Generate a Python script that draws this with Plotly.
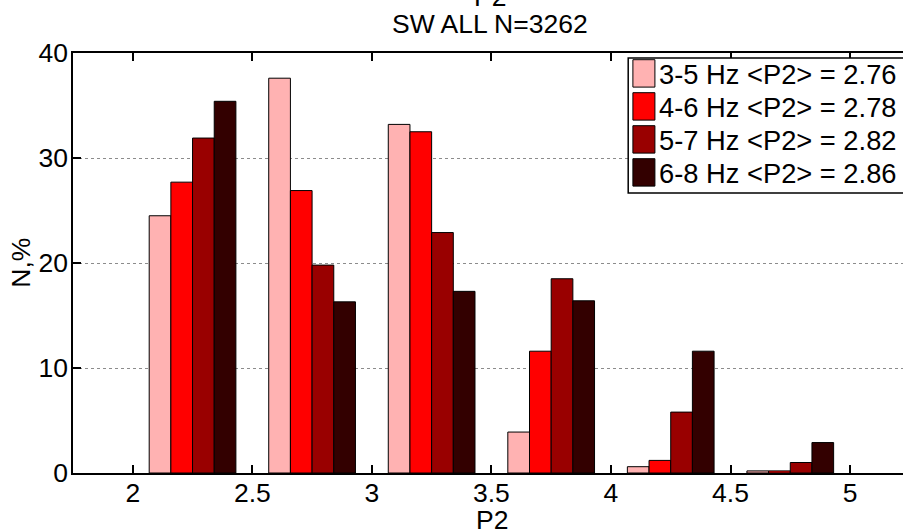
import plotly.graph_objects as go

# P2 histogram bins (bin centres) and percentage per frequency band
bin_centers = [2.25, 2.75, 3.25, 3.75, 4.25, 4.75]
band_labels = ["3-5 Hz", "4-6 Hz", "5-7 Hz", "6-8 Hz"]
band_means = [2.76, 2.78, 2.82, 2.86]
band_colors = ["#FFB2B2", "#FF0000", "#990000", "#330000"]

pct_3_5 = [24.5, 37.6, 33.2, 3.9, 0.6, 0.2]
pct_4_6 = [27.7, 26.9, 32.5, 11.6, 1.2, 0.2]
pct_5_7 = [31.9, 19.8, 22.9, 18.5, 5.8, 1.0]
pct_6_8 = [35.4, 16.3, 17.3, 16.4, 11.6, 2.9]
band_values = [pct_3_5, pct_4_6, pct_5_7, pct_6_8]

x_ticks = [2, 2.5, 3, 3.5, 4, 4.5, 5]
y_ticks = [0, 10, 20, 30, 40]

W, H = 903, 530
ML, MR, MT, MB = 73.3, 0, 53.3, 56.7
PW, PH = W - ML - MR, H - MT - MB
FONT = "Liberation Sans, Arial, Helvetica, sans-serif"
FS = 26.5
FS_LEG = 27.3


def px(xpix):
    return (xpix - ML) / PW


def py(ypix):
    return (H - MB - ypix) / PH


fig = go.Figure()
for name, vals, col in zip(band_labels, band_values, band_colors):
    fig.add_trace(go.Bar(
        x=bin_centers, y=vals, name=name,
        marker=dict(color=col, line=dict(color="black", width=1)),
        showlegend=False,
    ))

shapes = []
annotations = []

# legend box (extends past the right edge of the canvas)
shapes.append(dict(type="rect", xref="paper", yref="paper",
                   x0=px(628.3), x1=px(915), y0=py(193.3), y1=py(58.3),
                   line=dict(color="black", width=1.5), fillcolor="white",
                   layer="above"))
for i, (name, mean, col) in enumerate(zip(band_labels, band_means, band_colors)):
    cy = 73.7 + i * 33.0
    shapes.append(dict(type="rect", xref="paper", yref="paper",
                       x0=px(633), x1=px(655), y0=py(cy + 13.7), y1=py(cy - 13.7),
                       line=dict(color="black", width=1), fillcolor=col,
                       layer="above"))
    annotations.append(dict(xref="paper", yref="paper", x=px(657.5), y=py(cy + 1),
                            xanchor="left", yanchor="middle", showarrow=False,
                            text=f"{name} &lt;P2&gt; = {mean:.2f}",
                            font=dict(family=FONT, size=FS_LEG, color="black")))

# two-line title
annotations.append(dict(xref="paper", yref="paper", x=px(490), y=py(-3.0),
                        xanchor="center", yanchor="middle", showarrow=False,
                        text="P2", font=dict(family=FONT, size=FS, color="black")))
annotations.append(dict(xref="paper", yref="paper", x=px(490), y=py(24.5),
                        xanchor="center", yanchor="middle", showarrow=False,
                        text="SW ALL N=3262", font=dict(family=FONT, size=FS, color="black")))
# axis titles
annotations.append(dict(xref="paper", yref="paper", x=px(492), y=py(520),
                        xanchor="center", yanchor="middle", showarrow=False,
                        text="P2", font=dict(family=FONT, size=FS, color="black")))
annotations.append(dict(xref="paper", yref="paper", x=px(21), y=py(263.3),
                        xanchor="center", yanchor="middle", showarrow=False,
                        textangle=-90,
                        text="N,%", font=dict(family=FONT, size=FS, color="black")))

fig.update_layout(
    width=W, height=H,
    margin=dict(l=ML, r=MR, t=MT, b=MB, pad=0, autoexpand=False),
    paper_bgcolor="white", plot_bgcolor="white",
    barmode="group", bargap=0.2746, bargroupgap=0,
    font=dict(family=FONT, size=FS, color="black"),
    shapes=shapes, annotations=annotations,
    showlegend=False,
)
fig.update_xaxes(
    range=[1.75, 5.2215], tickvals=x_ticks, ticktext=[f"{v:g}" for v in x_ticks],
    showline=True, linecolor="black", linewidth=1.5, mirror="ticks",
    ticks="inside", ticklen=8, tickwidth=1.5, tickcolor="black",
    showgrid=False, zeroline=False, ticklabelstandoff=-5,
    tickfont=dict(family=FONT, size=FS, color="black"),
)
fig.update_yaxes(
    range=[0, 40], tickvals=y_ticks,
    showline=True, linecolor="black", linewidth=1.5, mirror=False,
    ticks="inside", ticklen=8, tickwidth=1.5, tickcolor="black",
    showgrid=True, gridcolor="#8c8c8c", gridwidth=1, griddash="dot",
    zeroline=False, ticklabelstandoff=-2,
    tickfont=dict(family=FONT, size=FS, color="black"),
)

fig.write_html("out.html")
